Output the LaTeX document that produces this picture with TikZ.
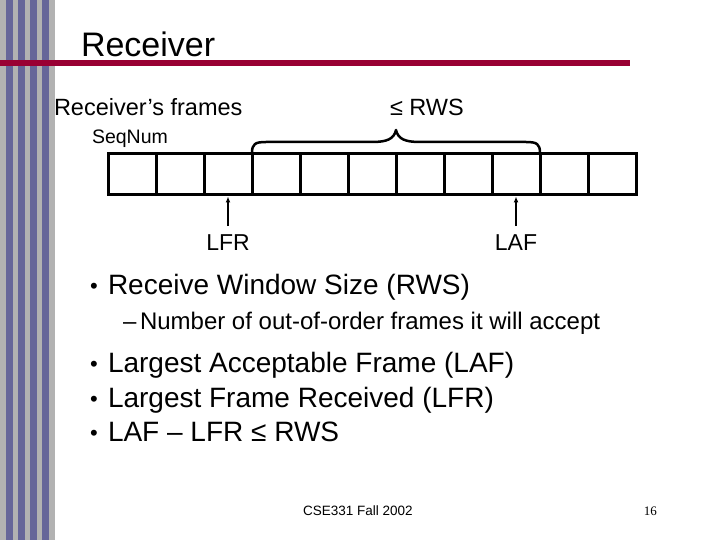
\documentclass[tikz,border=0pt]{standalone}
\usepackage{fontspec}
\setmainfont{Liberation Sans}
\newfontfamily\seriffont{Liberation Serif}
\usetikzlibrary{arrows.meta}
\definecolor{stripegray}{HTML}{B2B2B2}
\definecolor{stripeblue}{HTML}{666699}
\definecolor{rulered}{HTML}{990033}
\begin{document}
\begin{tikzpicture}[x=1pt,y=-1pt,
  txt/.style={anchor=base west,inner sep=0pt,outer sep=0pt,text=black},
  lbl/.style={anchor=base,inner sep=0pt,outer sep=0pt,text=black,font=\fontsize{23}{27}\selectfont},
  cell/.style={draw,line width=3pt,minimum width=48pt,minimum height=41pt,inner sep=0pt},
  arr/.style={line width=2.5pt,-{Latex[length=6pt,width=5pt]}},
  bracepath/.style={line width=2.5pt,line join=round,line cap=round},
  dot/.style={anchor=base,inner sep=0pt,outer sep=0pt,font=\fontsize{22}{24}\selectfont},
  big/.style={font=\fontsize{28}{33}\selectfont},
  small/.style={font=\fontsize{24}{28}\selectfont}]
\useasboundingbox (0,0) rectangle (720,540);
\fill[white] (0,0) rectangle (720,540);
% left stripes
\fill[stripegray] (0,0) rectangle (55,540);
\foreach \x in {6,18,30,42} \fill[stripeblue] (\x,0) rectangle (\x+7,540);
% title rule
\fill[rulered] (0,60) rectangle (630,66);
% title
\node[txt,font=\fontsize{34}{40}\selectfont] (title) at (81,57) {Receiver};
% headings
\node[txt,font=\fontsize{23.5}{28}\selectfont] (frames) at (54,116) {Receiver’s frames};
\node[txt,font=\fontsize{23.5}{28}\selectfont] (rws) at (390,116) {≤ RWS};
\node[txt,font=\fontsize{19.5}{23}\selectfont] (seq) at (92,144) {SeqNum};
% cells
\foreach \i in {1,...,11} \node[cell] (c\i) at ({108+48*\i-24},174.5) {};
% brace
\draw[bracepath] (252,153) .. controls (252,144) and (255,142) .. (266,142)
  -- (372,142) .. controls (387,142) and (394,139) .. (396,130)
  .. controls (398,139) and (405,142) .. (420,142)
  -- (526,142) .. controls (537,142) and (540,144) .. (540,153);
% pointers
\node[lbl] (lfr) at (228,251) {LFR};
\node[lbl] (laf) at (516,251) {LAF};
\draw[arr] ([yshift=9pt]lfr.north) -- (c3.south);
\draw[arr] ([yshift=9pt]laf.north) -- (c9.south);
% bullets
\foreach \n/\y in {b1/294,b3/372,b4/407,b5/441}
  \node[dot] (\n) at (94,\y-0.5) {•};
\node[txt,big] (t1) at (108,294) {Receive Window Size (RWS)};
\node[txt,small] (d2) at (123,329) {–};
\node[txt,small] (t2) at (140,329) {Number of out-of-order frames it will accept};
\node[txt,big] (t3) at (108,372) {Largest Acceptable Frame (LAF)};
\node[txt,big] (t4) at (108,407) {Largest Frame Received (LFR)};
\node[txt,big] (t5) at (108,441) {LAF – LFR ≤ RWS};
% footer
\node[txt,font=\fontsize{13.5}{16}\selectfont] (foot) at (303,515) {CSE331 Fall 2002};
\node[anchor=base east,inner sep=0pt,font=\seriffont\fontsize{13}{15}\selectfont] (pg) at (657,515) {16};
\end{tikzpicture}
\end{document}
